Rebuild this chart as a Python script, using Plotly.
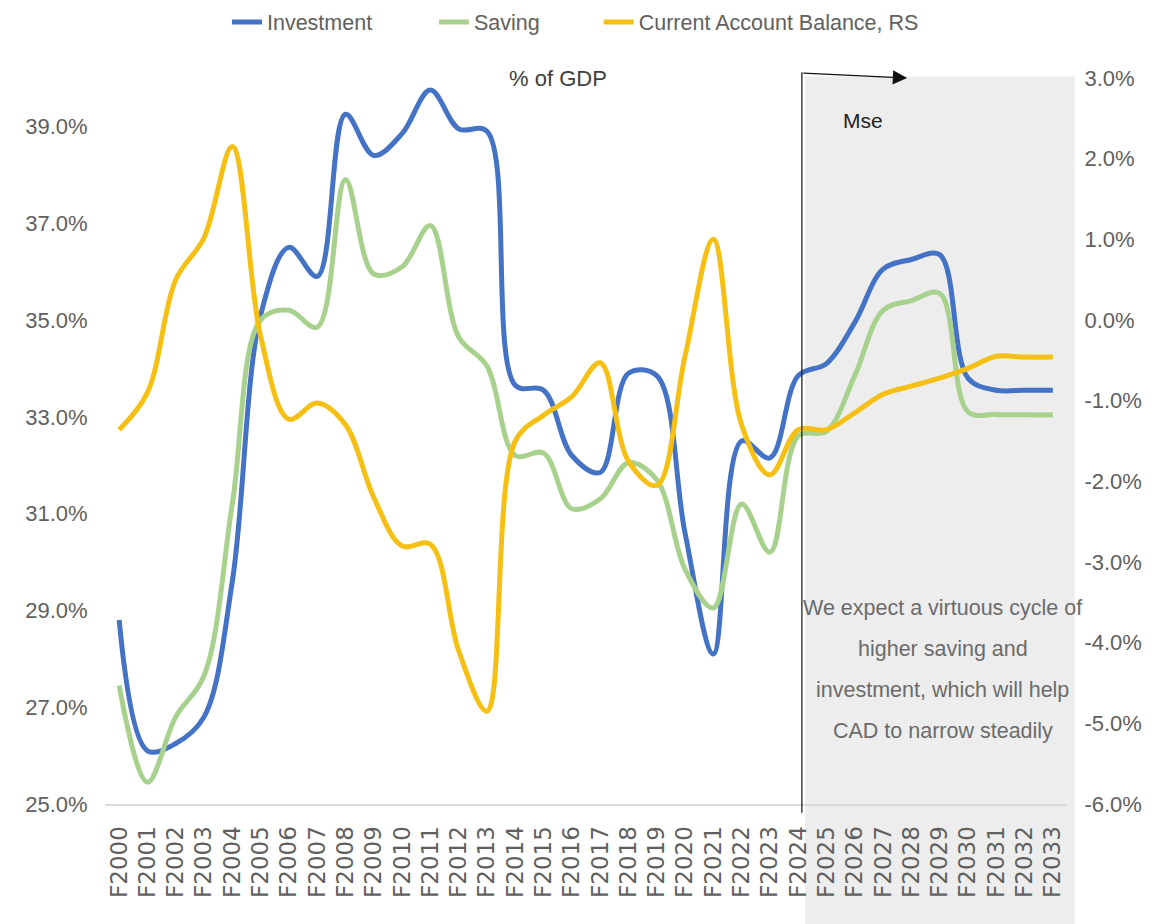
import plotly.graph_objects as go

# ── Data ──────────────────────────────────────────────────────
YEARS = [f"F{y}" for y in range(2000, 2034)]

INVESTMENT = [
    28.8, 26.1, 26.25, 26.8, 29.6, 35.1, 36.5, 35.9, 39.25, 38.4,
    38.85, 39.75, 38.95, 38.9, 33.65, 33.55, 32.2, 31.85, 33.9, 33.85,
    30.6, 28.1, 32.5, 32.15, 33.85, 34.1, 34.95, 36.05, 36.25, 36.35,
    33.8, 33.55, 33.55, 33.55,
]
SAVING = [
    27.45, 25.45, 26.8, 27.65, 31.2, 35.0, 35.2, 34.85, 37.9, 35.95,
    36.1, 36.95, 34.65, 34.05, 32.2, 32.25, 31.1, 31.3, 32.05, 31.7,
    29.85, 29.05, 31.2, 30.2, 32.6, 32.7, 33.85, 35.2, 35.4, 35.55,
    33.1, 33.05, 33.04, 33.04,
]
CURRENT_ACCOUNT = [
    -1.36, -0.9, 0.5, 1.02, 2.15, -0.2, -1.23, -1.03, -1.3, -2.2,
    -2.8, -2.78, -4.1, -4.85, -1.5, -1.18, -0.95, -0.53, -1.75, -2.05,
    -0.45, 1.0, -1.3, -1.92, -1.36, -1.36, -1.15, -0.92, -0.82, -0.72,
    -0.6, -0.45, -0.46, -0.46,
]

LEFT_TICKS = [25, 27, 29, 31, 33, 35, 37, 39]
RIGHT_TICKS = [-6, -5, -4, -3, -2, -1, 0, 1, 2, 3]
FORECAST_START = "F2024"

NOTE_LINES = [
    "We expect a virtuous cycle of",
    "higher saving and",
    "investment, which will help",
    "CAD to narrow steadily",
]

# ── Style ─────────────────────────────────────────────────────
BLUE = "#4472C4"
GREEN = "#A9D18E"
GOLD = "#F5C013"
GREY_TXT = "#606060"
SANS = "Liberation Sans, Arial, sans-serif"

W, H = 1156, 924
# page body has an 8px offset, margins compensate for it
M_L, M_R, M_T, M_B = 97, 97, 70, 128

fig = go.Figure()

series = [
    ("Investment", INVESTMENT, BLUE, "y", "legend", 0.1894),
    ("Saving", SAVING, GREEN, "y", "legend2", 0.3685),
    ("Current Account Balance, RS", CURRENT_ACCOUNT, GOLD, "y2", "legend3", 0.511),
]
for name, vals, col, yax, leg, _ in series:
    fig.add_trace(go.Scatter(
        x=YEARS, y=vals, name=name, mode="lines", yaxis=yax, legend=leg,
        line=dict(color=col, width=5, shape="spline", smoothing=1.0),
    ))

# ── Forecast shading + marker line ────────────────────────────
n = len(YEARS)
i0 = YEARS.index(FORECAST_START)
x_line = i0 + 0.13
plot_h = H - M_T - M_B

fig.add_shape(
    type="rect", layer="below",
    xref="x domain", yref="paper",
    x0=(i0 + 0.5 + 0.24) / n, x1=1.008,
    y0=-(M_B / plot_h), y1=1.002,
    fillcolor="#EDEDED", line=dict(width=0),
)
fig.add_shape(
    type="line", xref="x", yref="paper",
    x0=x_line, x1=x_line, y0=-0.012, y1=1.008,
    line=dict(color="#222222", width=1.3),
)

annotations = [
    dict(  # arrow
        x=i0 + 3.85, y=1.0, xref="x", yref="paper",
        ax=x_line, ay=-5, axref="x", ayref="pixel",
        text="", showarrow=True, arrowhead=2, arrowsize=2.2,
        arrowwidth=1.3, arrowcolor="#111111",
    ),
    dict(
        x=i0 + 2.3, y=0.942, xref="x", yref="paper",
        yanchor="middle", text="Mse", showarrow=False,
        font=dict(family=SANS, size=21, color="#222222"),
    ),
    dict(
        x=0.471, y=1.0, xref="paper", yref="paper",
        xanchor="center", yanchor="middle",
        text="% of GDP", showarrow=False,
        font=dict(family=SANS, size=22, color="#404040"),
    ),
]
for k, line in enumerate(NOTE_LINES):
    annotations.append(dict(
        x=0.871, y=0.270 - k * 0.0565, xref="paper", yref="paper",
        xanchor="center", yanchor="middle",
        text=line, showarrow=False,
        font=dict(family=SANS, size=21.5, color="#6B6B6B"),
    ))

legend_base = dict(
    orientation="h", xanchor="left", xref="container",
    yref="container", y=1 - 14 / H, yanchor="middle",
    font=dict(family=SANS, size=21.5, color=GREY_TXT),
    bgcolor="rgba(0,0,0,0)",
)
legends = {}
for _, _, _, _, leg, lx in series:
    legends[leg] = dict(legend_base, x=lx)

fig.update_layout(
    width=W, height=H, autosize=False,
    margin=dict(l=M_L, r=M_R, t=M_T, b=M_B),
    paper_bgcolor="white", plot_bgcolor="rgba(0,0,0,0)",
    showlegend=True,
    **legends,
    xaxis=dict(
        type="category", range=[-0.5, n - 0.5], automargin=False,
        tickmode="linear", tick0=0, dtick=1,
        showgrid=False, zeroline=False,
        showline=True, linecolor="#D9D9D9", linewidth=2,
        ticks="outside", ticklen=11, tickcolor="rgba(0,0,0,0)",
        tickangle=-90,
        tickfont=dict(family="DejaVu Sans", size=23, color=GREY_TXT),
    ),
    yaxis=dict(
        range=[25, 40], showgrid=False, zeroline=False, automargin=False,
        tickvals=LEFT_TICKS, ticktext=[f"{v:.1f}%" for v in LEFT_TICKS],
        ticks="outside", ticklen=12, tickcolor="rgba(0,0,0,0)",
        tickfont=dict(family=SANS, size=22, color=GREY_TXT),
    ),
    yaxis2=dict(
        range=[-6, 3], overlaying="y", side="right",
        showgrid=False, zeroline=False, automargin=False,
        tickvals=RIGHT_TICKS, ticktext=[f"{v:.1f}%" for v in RIGHT_TICKS],
        ticks="outside", ticklen=12, tickcolor="rgba(0,0,0,0)",
        tickfont=dict(family=SANS, size=22, color=GREY_TXT),
    ),
    annotations=annotations,
)

fig.write_html("out.html")
